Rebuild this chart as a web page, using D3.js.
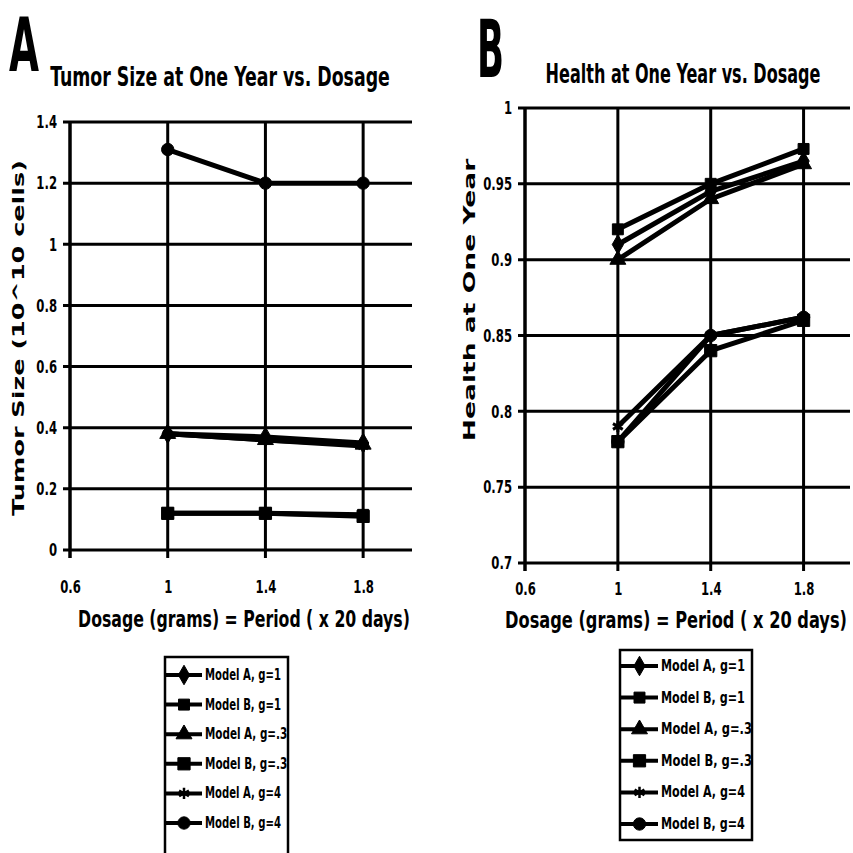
<!DOCTYPE html>
<html><head><meta charset="utf-8">
<script src="https://cdn.jsdelivr.net/npm/d3@7"></script>
<style>
body{margin:0;background:#fff}
text{font-family:"Liberation Sans Narrow","DejaVu Sans Condensed","Liberation Sans",sans-serif;font-weight:bold;fill:#000}
</style>
</head><body>
<svg id="c" width="853" height="853"></svg>
<script>
// ---- data ----
const dosage = [1, 1.4, 1.8];
const seriesNames = ["Model A, g=1","Model B, g=1","Model A, g=.3","Model B, g=.3","Model A, g=4","Model B, g=4"];
const xTicks = [0.6, 1, 1.4, 1.8];
const tumorTicks = [0, 0.2, 0.4, 0.6, 0.8, 1, 1.2, 1.4];
const healthTicks = [0.7, 0.75, 0.8, 0.85, 0.9, 0.95, 1];

const tumorModelA_g1  = [0.38, 0.37, 0.35];
const tumorModelB_g1  = [0.12, 0.12, 0.115];
const tumorModelA_g03 = [0.38, 0.36, 0.345];
const tumorModelB_g03 = [0.12, 0.12, 0.11];
const tumorModelA_g4  = [0.38, 0.36, 0.34];
const tumorModelB_g4  = [1.31, 1.2, 1.2];

const healthModelA_g1  = [0.91, 0.945, 0.965];
const healthModelB_g1  = [0.92, 0.95, 0.973];
const healthModelA_g03 = [0.90, 0.94, 0.963];
const healthModelB_g03 = [0.78, 0.84, 0.86];
const healthModelA_g4  = [0.79, 0.85, 0.862];
const healthModelB_g4  = [0.78, 0.85, 0.862];

const tumorSeries  = [tumorModelA_g1, tumorModelB_g1, tumorModelA_g03, tumorModelB_g03, tumorModelA_g4, tumorModelB_g4];
const healthSeries = [healthModelA_g1, healthModelB_g1, healthModelA_g03, healthModelB_g03, healthModelA_g4, healthModelB_g4];

// ---- drawing ----
const svg = d3.select("#c");
const symbolTypes = [d3.symbolDiamond, d3.symbolSquare, d3.symbolTriangle, d3.symbolSquare, d3.symbolAsterisk, d3.symbolCircle];
const symbolSizes = [110, 120, 110, 150, 90, 120];

function squeeze(sel, f) {
  sel.each(function(){
    const w = this.getComputedTextLength();
    d3.select(this).attr("textLength", w * f).attr("lengthAdjust", "spacingAndGlyphs");
  });
}
// place a text at (x,y) horizontally scaled to width w; anchor "start" or "middle"
function placeFit(parent, str, x, y, w, size, anchor, rotate) {
  const g = parent.append("g");
  const t = g.append("text").attr("x", 0).attr("y", 0).style("font-size", size + "px")
    .attr("text-anchor", anchor).text(str);
  const nat = t.node().getComputedTextLength();
  const s = w / nat;
  g.attr("transform", `translate(${x},${y})` + (rotate ? " rotate(-90)" : "") + ` scale(${s},1)`);
  return t;
}

function drawPanel(cfg) {
  const g = svg.append("g");
  const x = d3.scaleLinear().domain([0.6, 2.0]).range([cfg.left, cfg.right]);
  const y = d3.scaleLinear().domain(cfg.yDomain).range([cfg.bottom, cfg.top]);

  // horizontal gridlines
  g.append("g").selectAll("line").data(cfg.yTicks).join("line")
    .attr("x1", cfg.left - 7).attr("x2", cfg.right)
    .attr("y1", d => y(d)).attr("y2", d => y(d))
    .attr("stroke", "#000").attr("stroke-width", 3);
  // vertical gridlines (incl. axis at 0.6)
  g.append("g").selectAll("line").data(xTicks).join("line")
    .attr("x1", d => x(d)).attr("x2", d => x(d))
    .attr("y1", cfg.top).attr("y2", cfg.bottom + 8)
    .attr("stroke", "#000").attr("stroke-width", (d, i) => i === 0 ? 3.5 : 3);

  // axes labels
  const ya = g.append("g").attr("transform", `translate(${cfg.left},0)`)
    .call(d3.axisLeft(y).tickValues(cfg.yTicks).tickSize(0).tickPadding(13)
      .tickFormat(d => String(+d.toFixed(2))));
  ya.select(".domain").remove();
  ya.selectAll("text").style("font-size", "18px");
  squeeze(ya.selectAll("text"), 0.72);

  const xa = g.append("g").attr("transform", `translate(0,${cfg.bottom})`)
    .call(d3.axisBottom(x).tickValues(xTicks).tickSize(0).tickPadding(cfg.xPad)
      .tickFormat(d => String(d)));
  xa.select(".domain").remove();
  xa.selectAll("text").style("font-size", "18px");
  squeeze(xa.selectAll("text"), 0.72);

  // series
  const line = d3.line().x((d, i) => x(dosage[i])).y(d => y(d));
  cfg.series.forEach((s, k) => {
    g.append("path").datum(s).attr("d", line)
      .attr("fill", "none").attr("stroke", "#000").attr("stroke-width", 5).attr("stroke-linejoin", "round");
  });
  cfg.series.forEach((s, k) => {
    const stroke = symbolTypes[k] === d3.symbolAsterisk;
    g.append("g").selectAll("path").data(s).join("path")
      .attr("transform", (d, i) => `translate(${x(dosage[i])},${y(d)})`)
      .attr("d", d3.symbol().type(symbolTypes[k]).size(symbolSizes[k]))
      .attr("fill", stroke ? "none" : "#000")
      .attr("stroke", "#000").attr("stroke-width", stroke ? 3 : 1);
  });

  // titles
  placeFit(g, cfg.title, cfg.titleX, cfg.titleY, cfg.titleW, 26, "middle");
  placeFit(g, cfg.letter, cfg.letterX, cfg.letterY, cfg.letterW, cfg.letterSize, "start");
  placeFit(g, "Dosage (grams) = Period ( x 20 days)", cfg.xTitleX, cfg.xTitleY, cfg.xTitleW, 23, "middle");
  const yt = placeFit(g, cfg.yTitle, cfg.yTitleX, cfg.yTitleY, cfg.yTitleW, 15, "middle", true);
  yt.style("font-family", "'DejaVu Sans',sans-serif");

  // legend
  const lg = g.append("g");
  lg.append("rect").attr("x", cfg.legX).attr("y", cfg.legY).attr("width", cfg.legW).attr("height", cfg.legH)
    .attr("fill", "#fff").attr("stroke", "#000").attr("stroke-width", 2.5);
  seriesNames.forEach((name, k) => {
    const cy = cfg.legItem0 + k * cfg.legStep;
    const x0 = cfg.legX + 1, x1 = cfg.legX + cfg.legLine;
    lg.append("line").attr("x1", x0).attr("x2", x1).attr("y1", cy).attr("y2", cy)
      .attr("stroke", "#000").attr("stroke-width", 4);
    const stroke = symbolTypes[k] === d3.symbolAsterisk;
    lg.append("path").attr("transform", `translate(${(x0 + x1) / 2},${cy})`)
      .attr("d", d3.symbol().type(symbolTypes[k]).size(symbolSizes[k]))
      .attr("fill", stroke ? "none" : "#000").attr("stroke", "#000").attr("stroke-width", stroke ? 2.5 : 1);
    placeFit(lg, name, x1 + 3, cy + 5, cfg.legTextW * (name.length / 12), 16, "start");
  });
}

drawPanel({
  left: 70, right: 412, top: 122, bottom: 550,
  yDomain: [0, 1.4], yTicks: tumorTicks, xPad: 30,
  series: tumorSeries,
  title: "Tumor Size at One Year vs. Dosage", titleX: 220, titleY: 86, titleW: 340,
  letter: "A", letterX: 9, letterY: 71, letterSize: 75, letterW: 30,
  xTitleX: 244, xTitleY: 627, xTitleW: 332,
  yTitle: "Tumor Size (10^10 cells)", yTitleX: 24, yTitleY: 338, yTitleW: 320,
  legX: 165, legY: 657, legW: 123, legH: 200, legItem0: 675, legStep: 29.6, legLine: 37, legTextW: 76
});
drawPanel({
  left: 525, right: 850, top: 108, bottom: 563,
  yDomain: [0.7, 1.0], yTicks: healthTicks, xPad: 19,
  series: healthSeries,
  title: "Health at One Year vs. Dosage", titleX: 683, titleY: 83, titleW: 275,
  letter: "B", letterX: 477, letterY: 77, letterSize: 81, letterW: 27,
  xTitleX: 676, xTitleY: 628, xTitleW: 342,
  yTitle: "Health at One Year", yTitleX: 475, yTitleY: 300, yTitleW: 254,
  legX: 620, legY: 650, legW: 132, legH: 190, legItem0: 666, legStep: 31.6, legLine: 38, legTextW: 84
});
</script>
</body></html>
